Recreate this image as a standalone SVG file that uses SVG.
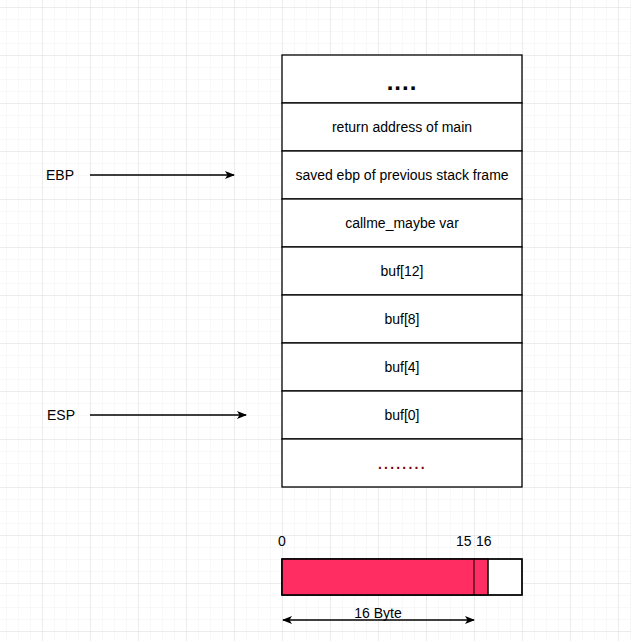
<svg xmlns="http://www.w3.org/2000/svg" width="631" height="641" viewBox="0 0 631 641">
<defs>
<pattern id="minor" x="6" y="7" width="12" height="12" patternUnits="userSpaceOnUse">
<path d="M0 0H12M0 0V12" fill="none" stroke="#f2f2f2" stroke-width="1"/>
</pattern>
<pattern id="major" x="42" y="7" width="48" height="48" patternUnits="userSpaceOnUse">
<path d="M0 0H48M0 0V48" fill="none" stroke="#e0e0e0" stroke-width="1"/>
</pattern>
<marker id="arr" markerWidth="10" markerHeight="10" refX="9" refY="5" orient="auto" markerUnits="userSpaceOnUse">
<path d="M0 1L10 5L0 9L2.5 5Z" fill="#000"/>
</marker>
<marker id="arrs" markerWidth="10" markerHeight="10" refX="1" refY="5" orient="auto" markerUnits="userSpaceOnUse">
<path d="M10 1L0 5L10 9L7.5 5Z" fill="#000"/>
</marker>
</defs>
<style>
text{font-family:"Liberation Sans",Arial,sans-serif;font-size:14px;fill:#000}
.c{text-anchor:middle}
.cell{fill:#fff;stroke:#000;stroke-width:1.3}
</style>
<rect width="631" height="641" fill="#fff"/>
<rect width="631" height="641" fill="url(#minor)"/>
<rect width="631" height="641" fill="url(#major)"/>
<g id="stack">
<g id="n0"><rect class="cell" x="282" y="55" width="240" height="48"/><text class="c" x="402" y="90" style="font-size:24px;font-weight:bold;letter-spacing:1px">....</text></g>
<g id="n1"><rect class="cell" x="282" y="103" width="240" height="48"/><text class="c" x="402" y="132">return address of main</text></g>
<g id="n2"><rect class="cell" x="282" y="151" width="240" height="48"/><text class="c" x="402" y="180">saved ebp of previous stack frame</text></g>
<g id="n3"><rect class="cell" x="282" y="199" width="240" height="48"/><text class="c" x="402" y="228">callme_maybe var</text></g>
<g id="n4"><rect class="cell" x="282" y="247" width="240" height="48"/><text class="c" x="402" y="276">buf[12]</text></g>
<g id="n5"><rect class="cell" x="282" y="295" width="240" height="48"/><text class="c" x="402" y="324">buf[8]</text></g>
<g id="n6"><rect class="cell" x="282" y="343" width="240" height="48"/><text class="c" x="402" y="372">buf[4]</text></g>
<g id="n7"><rect class="cell" x="282" y="391" width="240" height="48"/><text class="c" x="402" y="420">buf[0]</text></g>
<g id="n8"><rect class="cell" x="282" y="439" width="240" height="48"/><text x="378" y="469" style="fill:#800000;font-weight:bold;letter-spacing:2.2px">........</text></g>
</g>
<g id="labels">
<text x="46" y="180">EBP</text>
<text x="47" y="420">ESP</text>
<text x="278" y="546">0</text>
<text x="456" y="546">15</text>
<text x="476" y="546">16</text>
</g>
<g id="bar">
<rect x="282" y="559" width="240" height="36" fill="#fff" stroke="#000" stroke-width="1.3"/>
<rect x="282" y="559" width="206" height="36" fill="#ff2d62" stroke="#000" stroke-width="1"/>
<line x1="474" y1="559" x2="474" y2="595" stroke="#000" stroke-width="1"/>
<line x1="488" y1="559" x2="488" y2="595" stroke="#000" stroke-width="1"/>
<rect x="282" y="559" width="240" height="36" fill="none" stroke="#000" stroke-width="1.3"/>
</g>
<g id="connectors" stroke="#000" stroke-width="1.3" fill="none">
<line x1="90" y1="175" x2="234" y2="175" marker-end="url(#arr)"/>
<line x1="90" y1="415" x2="246" y2="415" marker-end="url(#arr)"/>
<line x1="283" y1="620" x2="474" y2="620" marker-start="url(#arrs)" marker-end="url(#arr)"/>
</g>
<text class="c" x="378" y="618">16 Byte</text>
</svg>
